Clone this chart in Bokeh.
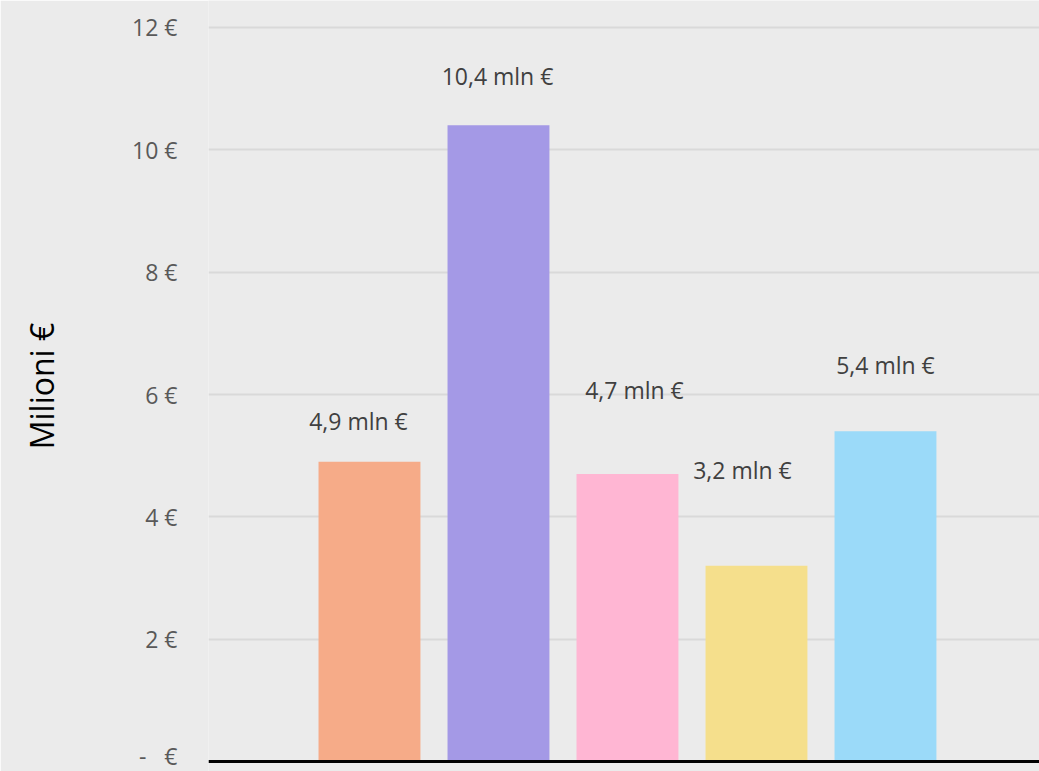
from bokeh.plotting import figure
from bokeh.models import ColumnDataSource, FixedTicker, CustomJSTickFormatter, Span, Range1d
from bokeh.core.properties import value
from bokeh.embed import file_html
from bokeh.resources import INLINE

# ---- data ----
categories = ["1", "2", "3", "4", "5"]
values = [4.9, 10.4, 4.7, 3.2, 5.4]
labels = ["4,9 mln €", "10,4 mln €", "4,7 mln €", "3,2 mln €", "5,4 mln €"]
colors = ["#F6AB88", "#A499E6", "#FFB6D3", "#F5DF8C", "#9BDAF9"]
y_ticks = [0, 2, 4, 6, 8, 10, 12]

# label placement (as in the original, labels were hand-placed)
label_y = [5.56, 11.21, 6.07, 4.76, 6.49]
label_dx = [-11, -1, 7, -14, 0]

xs = [i + 1 for i in range(len(categories))]

src = ColumnDataSource(dict(x=xs, top=values, color=colors, cat=categories))
lsrc = ColumnDataSource(dict(x=xs, y=label_y, text=labels, dx=label_dx))

BG = "#EBEBEB"
p = figure(width=1039, height=771, output_backend="svg", toolbar_location=None,
           x_range=Range1d(-0.248, 6.194), y_range=Range1d(-0.163, 12.441),
           min_border_left=208, min_border_right=0, min_border_top=0, min_border_bottom=0)
p.background_fill_color = BG
p.border_fill_color = BG
p.outline_line_color = None

p.vbar(x="x", top="top", width=0.79, color="color", line_color=None, source=src)

p.add_layout(Span(location=0, dimension="width", line_color="black", line_width=3))

p.text(x="x", y="y", text="text", x_offset="dx", source=lsrc,
       text_align="center", text_baseline="middle",
       text_font=value("Open Sans"), text_font_size="23px", text_color="#404040")

p.xaxis.visible = False
p.xgrid.visible = False
p.ygrid.grid_line_color = "#D9D9D9"
p.ygrid.grid_line_width = 2

ax = p.yaxis[0]
ax.ticker = FixedTicker(ticks=y_ticks)
ax.formatter = CustomJSTickFormatter(code="""
return tick == 0 ? "-\u00a0\u00a0\u00a0€" : tick.toFixed(0) + " €";
""")
ax.axis_line_color = None
ax.major_tick_line_color = None
ax.minor_tick_line_color = None
ax.major_tick_out = 0
ax.major_label_standoff = 31
ax.major_label_text_font = "Open Sans"
ax.major_label_text_font_size = "23px"
ax.major_label_text_color = "#595959"
ax.axis_label = "Milioni €"
ax.axis_label_text_font = "Open Sans"
ax.axis_label_text_font_size = "32px"
ax.axis_label_text_font_style = "normal"
ax.axis_label_text_color = "#000000"
ax.axis_label_standoff = 66

open("out.html", "w").write(file_html(p, INLINE))
